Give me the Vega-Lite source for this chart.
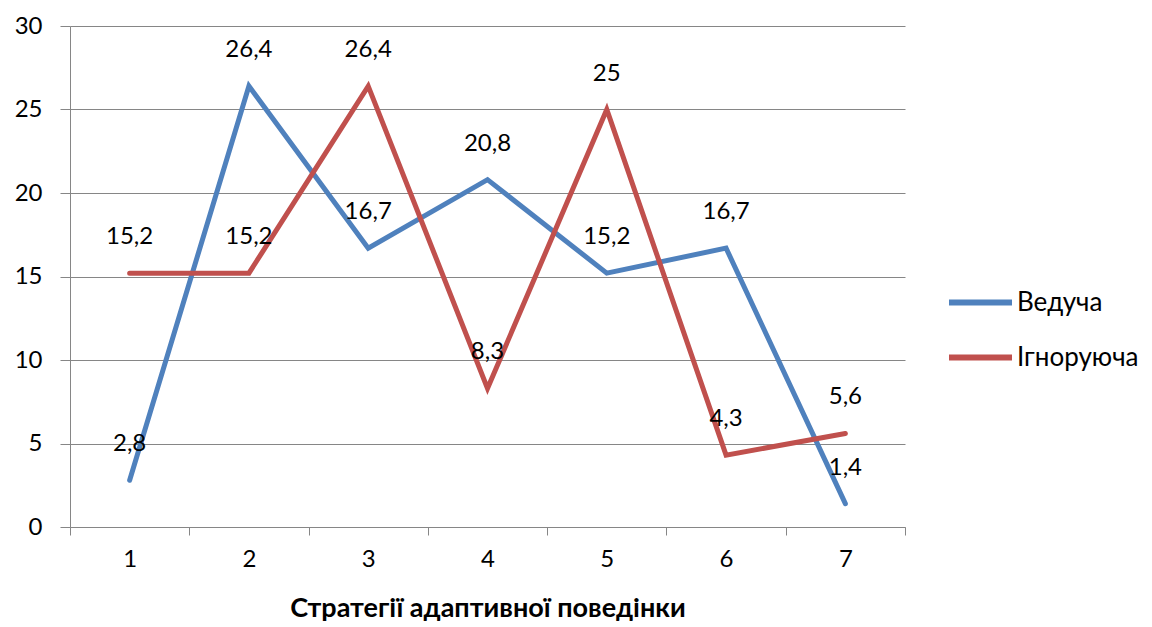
{
  "$schema": "https://vega.github.io/schema/vega-lite/v6.json",
  "width": 835,
  "height": 501,
  "autosize": "none",
  "padding": {"left": 70, "top": 26, "right": 247, "bottom": 100},
  "background": "white",
  "config": {
    "view": {"stroke": null},
    "font": "Lato",
    "axis": {"labelFont": "Lato", "titleFont": "Lato", "labelColor": "#000000", "titleColor": "#000000"}
  },
  "data": {
    "values": [
      {"s": 1, "series": "Ведуча", "v": 2.8, "label": "2,8"},
      {"s": 2, "series": "Ведуча", "v": 26.4, "label": "26,4"},
      {"s": 3, "series": "Ведуча", "v": 16.7, "label": "16,7"},
      {"s": 4, "series": "Ведуча", "v": 20.8, "label": "20,8"},
      {"s": 5, "series": "Ведуча", "v": 15.2, "label": "15,2"},
      {"s": 6, "series": "Ведуча", "v": 16.7, "label": "16,7"},
      {"s": 7, "series": "Ведуча", "v": 1.4, "label": "1,4"},
      {"s": 1, "series": "Ігноруюча", "v": 15.2, "label": "15,2"},
      {"s": 2, "series": "Ігноруюча", "v": 15.2, "label": "15,2"},
      {"s": 3, "series": "Ігноруюча", "v": 26.4, "label": "26,4"},
      {"s": 4, "series": "Ігноруюча", "v": 8.3, "label": "8,3"},
      {"s": 5, "series": "Ігноруюча", "v": 25, "label": "25"},
      {"s": 6, "series": "Ігноруюча", "v": 4.3, "label": "4,3"},
      {"s": 7, "series": "Ігноруюча", "v": 5.6, "label": "5,6"}
    ]
  },
  "encoding": {
    "x": {
      "field": "s",
      "type": "ordinal",
      "bandPosition": 0.5,
      "scale": {"type": "band", "paddingInner": 0, "paddingOuter": 0},
      "axis": {
        "title": "Стратегії адаптивної поведінки",
        "titleFontSize": 27,
        "titleFontWeight": "bold",
        "titlePadding": 24,
        "labelAngle": 0,
        "labelFontSize": 24,
        "labelPadding": 12,
        "tickBand": "extent",
        "tickSize": 8,
        "tickColor": "#868686",
        "domainColor": "#868686",
        "grid": false
      }
    },
    "y": {
      "field": "v",
      "type": "quantitative",
      "scale": {"domain": [0, 30]},
      "axis": {
        "title": null,
        "values": [0, 5, 10, 15, 20, 25, 30],
        "labelFontSize": 24,
        "labelPadding": 18,
        "tickSize": 10,
        "tickColor": "#868686",
        "domainColor": "#868686",
        "gridColor": "#868686",
        "grid": true
      }
    }
  },
  "layer": [
    {
      "mark": {"type": "line", "strokeWidth": 5, "strokeCap": "round", "strokeJoin": "miter"},
      "encoding": {
        "color": {
          "field": "series",
          "type": "nominal",
          "scale": {"domain": ["Ведуча", "Ігноруюча"], "range": ["#4F81BD", "#C0504D"]},
          "legend": {
            "title": null,
            "orient": "none",
            "legendX": 876,
            "legendY": 242,
            "symbolType": "stroke",
            "symbolSize": 3969,
            "symbolStrokeWidth": 6,
            "labelFontSize": 26,
            "labelFont": "Lato",
            "labelColor": "#000000",
            "labelOffset": 2,
            "rowPadding": 7
          }
        }
      }
    },
    {
      "mark": {"type": "text", "dy": -36, "fontSize": 24, "color": "#000000", "font": "Lato"},
      "encoding": {"text": {"field": "label"}}
    }
  ]
}
